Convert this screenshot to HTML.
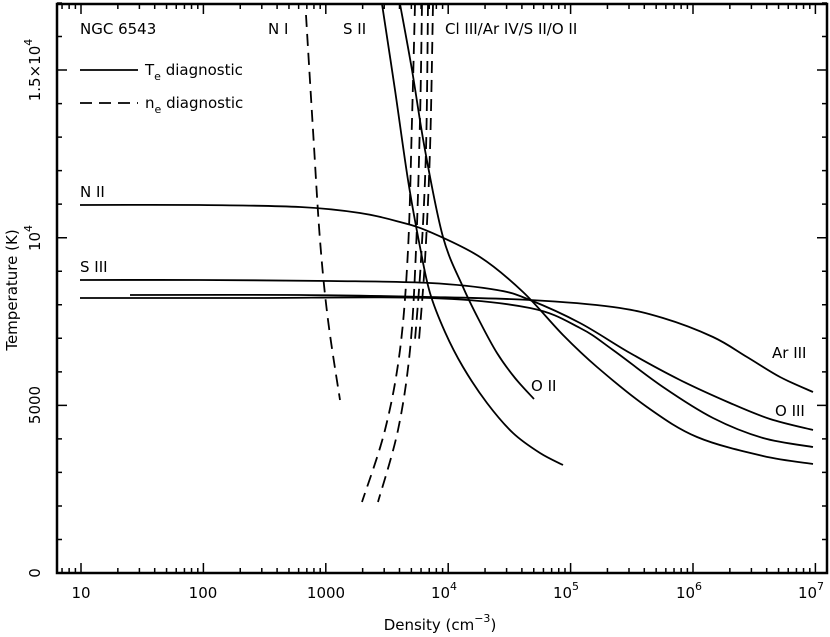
<!DOCTYPE html>
<html><head><meta charset="utf-8"><style>
html,body{margin:0;padding:0;background:#fff;}
svg{display:block;font-family:"DejaVu Sans","Liberation Sans",sans-serif;}
text{fill:#000;font-size:15px;}
</style></head><body>
<svg id="s" width="830" height="637" viewBox="0 0 830 637" xmlns="http://www.w3.org/2000/svg">
<rect x="57" y="4" width="770" height="569" fill="none" stroke="#000" stroke-width="2.5"/>
<g id="ticks" stroke="#000" stroke-width="1.5"></g>
<g id="solid" fill="none" stroke="#000" stroke-width="1.8" stroke-linejoin="round">
<polyline points="80,205 200,205 300,207 360,213 400,222 430,232 480,257 523,292 563,335 597,367 647,407 697,437 763,456 813,464"/>
<polyline points="80,280 200,280 330,281 430,283 497,290 530,300 580,323 630,353 680,380 730,403 770,419 813,430"/>
<polyline points="80,298 250,298 430,298 530,308 580,328 613,350 663,387 713,418 763,438 813,447"/>
<polyline points="130,295 300,295 430,297 530,300 613,307 663,318 713,337 747,357 780,377 813,392"/>
<polyline points="400,4 412,70 425,150 443,237 463,287 480,322 497,353 515,378 534,399"/>
<polyline points="382,4 395,90 408,180 420,247 430,293 445,332 463,367 487,403 513,433 540,453 563,465"/>
</g>
<g id="dash" fill="none" stroke="#000" stroke-width="1.8" stroke-dasharray="12,7">
<polyline points="306,15 313,130 320,240 328,320 340,400"/>
<polyline points="415,4 412,120 408,250 400,350 385,430 362,502"/>
<polyline points="422,4 420,120 416,250 410,350 398,430 378,502"/>
<polyline points="428,4 426,150 421,260 415,340"/>
<polyline points="433,4 430,150 425,260 419,340"/>
</g>
<line x1="80" y1="70" x2="138" y2="70" stroke="#000" stroke-width="1.8"/>
<line x1="80" y1="103" x2="138" y2="103" stroke="#000" stroke-width="1.8" stroke-dasharray="12,7"/>
<text x="80" y="34">NGC 6543</text>
<text x="145" y="75">T<tspan font-size="11" dy="5">e</tspan><tspan dy="-5"> diagnostic</tspan></text>
<text x="145" y="108">n<tspan font-size="11" dy="5">e</tspan><tspan dy="-5"> diagnostic</tspan></text>
<text x="268" y="34">N I</text>
<text x="343" y="34">S II</text>
<text x="445" y="34">Cl III/Ar IV/S II/O II</text>
<text x="80" y="197">N II</text>
<text x="80" y="272">S III</text>
<text x="531" y="391">O II</text>
<text x="772" y="358">Ar III</text>
<text x="775" y="416">O III</text>
<g text-anchor="middle">
<text x="81" y="598">10</text>
<text x="203" y="598">100</text>
<text x="326" y="598">1000</text>
<text x="444" y="598">10<tspan font-size="11" dy="-8">4</tspan></text>
<text x="566" y="598">10<tspan font-size="11" dy="-8">5</tspan></text>
<text x="689" y="598">10<tspan font-size="11" dy="-8">6</tspan></text>
<text x="811" y="598">10<tspan font-size="11" dy="-8">7</tspan></text>
<text x="440" y="630">Density (cm<tspan font-size="11" dy="-8">−3</tspan><tspan dy="8">)</tspan></text>
<text transform="translate(40,573) rotate(-90)">0</text>
<text transform="translate(40,405) rotate(-90)">5000</text>
<text transform="translate(40,238) rotate(-90)">10<tspan font-size="11" dy="-8">4</tspan></text>
<text transform="translate(40,70) rotate(-90)">1.5×10<tspan font-size="11" dy="-8">4</tspan></text>
<text transform="translate(17,290) rotate(-90)">Temperature (K)</text>
</g>
</svg>
<script>
var NS='http://www.w3.org/2000/svg';
var g=document.getElementById('ticks'),d='';
var x0=81,dec=122.4;
for(var e=0;e<7;e++){for(var m=1;m<10;m++){var x=x0+dec*(e+Math.log10(m));if(x>827)continue;var L=m==1?10:5;d+='M'+x+' 573v-'+L+'M'+x+' 4v'+L;}}
for(var m=7;m<10;m++){var x=x0+dec*(Math.log10(m)-1);d+='M'+x+' 573v-5M'+x+' 4v5';}
for(var t=1000;t<=17000;t+=1000){var y=573-t*0.03353;var L=t%5000==0?10:5;d+='M57 '+y+'h'+L+'M827 '+y+'h-'+L;}
var p=document.createElementNS(NS,'path');p.setAttribute('d',d);g.appendChild(p);
document.querySelectorAll('#solid polyline,#dash polyline').forEach(function(pl){
  var P=pl.getAttribute('points').trim().split(/\s+/).map(function(s){return s.split(',').map(Number);});
  var s='M'+P[0][0]+' '+P[0][1];
  for(var i=0;i<P.length-1;i++){
    var p0=P[i-1]||P[i],p1=P[i],p2=P[i+1],p3=P[i+2]||P[i+1];
    var c1=[p1[0]+(p2[0]-p0[0])/6,p1[1]+(p2[1]-p0[1])/6];
    var c2=[p2[0]-(p3[0]-p1[0])/6,p2[1]-(p3[1]-p1[1])/6];
    s+='C'+c1[0]+' '+c1[1]+' '+c2[0]+' '+c2[1]+' '+p2[0]+' '+p2[1];
  }
  var np=document.createElementNS(NS,'path');np.setAttribute('d',s);
  pl.parentNode.replaceChild(np,pl);
});
</script>
</body></html>
